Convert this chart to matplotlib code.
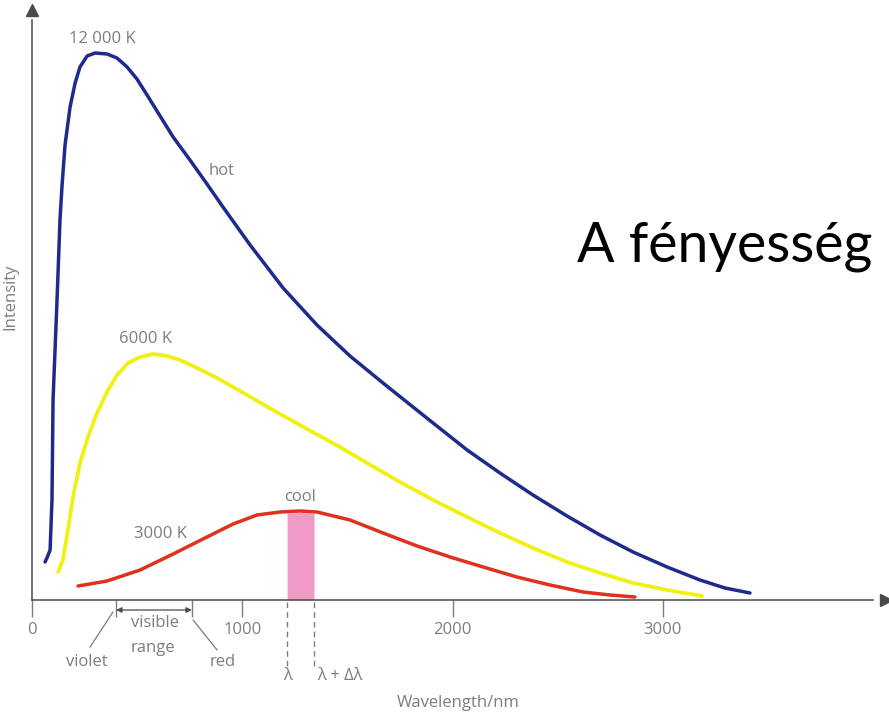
import numpy as np
import matplotlib
matplotlib.use("Agg")
import matplotlib.pyplot as plt

# Planck-like curves (wavelength in nm, intensity in arbitrary units)
hot_wl = [62, 71, 86, 95, 100, 119, 133, 143, 157, 181, 205, 228, 262, 300, 357, 404, 452,
          499, 547, 609, 671, 751, 832, 908, 1037, 1194, 1355, 1512, 1669, 1764, 1907, 2069,
          2225, 2382, 2544, 2701, 2858, 3020, 3176, 3295, 3414]
hot_int = [38, 42, 50, 100, 200, 300, 380, 415, 455, 493, 517, 533, 544, 547, 546, 542, 533,
           521, 505, 484, 463, 440, 416, 393, 355, 312, 275, 244, 217, 201, 177, 150,
           127, 105, 84, 65, 48, 33, 20, 12, 7]

mid_wl = [124, 147, 171, 195, 228, 266, 309, 357, 404, 457, 514, 575, 642, 704, 785, 880,
          989, 1146, 1308, 1455, 1593, 1750, 1907, 2069, 2225, 2382, 2544, 2701, 2858, 3020,
          3186]
mid_int = [28, 40, 70, 103, 137, 163, 187, 208, 225, 237, 243, 246, 244, 240, 232, 222,
           209, 190, 171, 154, 137, 118, 100, 83, 67, 52, 38, 27, 17, 10, 4]

cool_wl = [219, 357, 514, 671, 832, 956, 1070, 1179, 1274, 1355, 1512, 1669, 1831, 1988,
           2145, 2306, 2463, 2620, 2749, 2867]
cool_int = [14, 19, 30, 46, 63, 76, 85, 88, 89, 88, 80, 67, 54, 43, 33, 23, 15, 8, 5, 3]

tick_values = [0, 1000, 2000, 3000]
visible_range = [400, 760]
band = [1213, 1341]

gray = "#7d7d7d"
axis_col = "#4a4a4a"
plt.rcParams["font.family"] = ["Open Sans", "DejaVu Sans"]

fig = plt.figure(figsize=(8.89, 7.15), dpi=100)
ax = fig.add_axes([0, 0, 1, 1])
ax.set_xlim(-152.2, 4075)
ax.set_ylim(-115, 600)

style = dict(solid_capstyle="round", solid_joinstyle="round")
ax.plot(hot_wl, hot_int, color="#1e2a8c", lw=2.5, **style)
ax.plot(mid_wl, mid_int, color="#f0f012", lw=2.7, **style)
ax.plot(cool_wl, cool_int, color="#e0301e", lw=2.5, **style)

# pink strip under the cool curve
bx = np.linspace(band[0], band[1], 20)
ax.fill_between(bx, 0, np.interp(bx, cool_wl, cool_int) - 1.5, color="#f29ac6", lw=0, zorder=1)
for b in band:
    ax.plot([b, b], [-2, -66], color=gray, lw=1, ls=(0, (4, 3)))

# axes with arrow heads
for s in ["top", "right"]:
    ax.spines[s].set_visible(False)
ax.spines["left"].set_position(("data", 0))
ax.spines["bottom"].set_position(("data", 0))
ax.spines["left"].set_bounds(0, 580)
ax.spines["bottom"].set_bounds(0, 4000)
for s in ["left", "bottom"]:
    ax.spines[s].set_color(axis_col)
    ax.spines[s].set_linewidth(1.1)
ax.plot(0, 590, marker="^", color=axis_col, ms=9, clip_on=False)
ax.plot(4060, 0, marker=">", color=axis_col, ms=9, clip_on=False)

ax.set_yticks([])
ax.set_xticks(tick_values)
ax.set_xticklabels([str(t) for t in tick_values])
ax.set_xticks(visible_range, minor=True)
ax.tick_params(axis="x", which="both", direction="out", length=12, width=1, color=gray,
               labelcolor=gray, labelsize=12, pad=4)

# visible range arrows and leaders
ax.annotate("", xy=(visible_range[0], -10), xytext=(visible_range[1], -10),
            arrowprops=dict(arrowstyle="<|-|>", color=axis_col, lw=0.9, mutation_scale=8,
                            shrinkA=0, shrinkB=0))
ax.plot([385, 276], [-12, -47], color=gray, lw=0.9)
ax.plot([766, 880], [-20, -50], color=gray, lw=0.9)

txt = dict(color=gray, fontsize=12, ha="center", va="center")
ax.text(333, 561, "12 000 K", **txt)
ax.text(903, 429, "hot", **txt)
ax.text(542, 261, "6000 K", **txt)
ax.text(613, 66, "3000 K", **txt)
ax.text(1274, 103, "cool", **txt)
ax.text(585, -23, "visible", **txt)
ax.text(575, -48, "range", **txt)
ax.text(262, -62, "violet", **txt)
ax.text(908, -62, "red", **txt)
ax.text(1213, -76, "λ", **txt)
ax.text(1465, -76, "λ + Δλ", **txt)
ax.text(2026, -103, "Wavelength/nm", **txt)
ax.text(-105, 303, "Intensity", rotation=90, **txt)

ax.text(2592, 338, "A fényesség", fontsize=40, color="black", ha="left", va="baseline",
        family=["Lato", "DejaVu Sans"])

fig.savefig("out.png", dpi=100)
